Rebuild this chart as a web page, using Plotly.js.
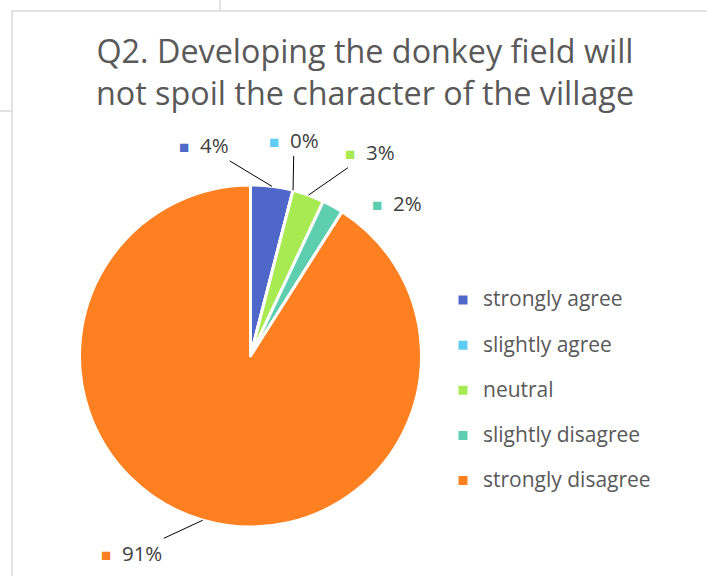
<!DOCTYPE html>
<html><head><meta charset="utf-8">
<script src="https://cdn.plot.ly/plotly-3.0.1.min.js"></script>
<style>html,body{margin:0;padding:0;background:#fff}#chart{width:707px;height:576px}</style>
</head><body><div id="chart"></div>
<script>
// ---- data ----
const categories = ['strongly agree', 'slightly agree', 'neutral', 'slightly disagree', 'strongly disagree'];
const values = [4, 0, 3, 2, 91];
const colors = ['#4E67C8', '#5ECCF3', '#A7EA52', '#5DCEAF', '#FF8021'];
const titleText = 'Q2. Developing the donkey field will<br>not spoil the character of the village';

// ---- layout config ----
const W = 707, H = 576;
const pieCx = 250.5, pieCy = 356, pieR = 171;
const labelOffsets = [[-68, -41], [1, -50], [62, -43], [64, -3], [-71, 33]];
const labelLeader = [true, true, true, false, true];
const FONT = '"Open Sans", Lato, sans-serif';

const total = values.reduce((a, b) => a + b, 0);
let cum = 0;
const annotations = values.map((v, i) => {
  const mid = (cum + v / 2) / total * 2 * Math.PI; cum += v;
  const px = pieCx + pieR * Math.sin(mid);
  const py = pieCy - pieR * Math.cos(mid);
  const pct = Math.round(v / total * 100);
  return {
    xref: 'paper', yref: 'paper', x: px / W, y: 1 - py / H,
    ax: labelOffsets[i][0], ay: labelOffsets[i][1],
    text: `<span style="color:${colors[i]};font-size:17px">■</span>  ${pct}%`,
    showarrow: true, arrowhead: 0, arrowwidth: 1,
    arrowcolor: labelLeader[i] ? '#000000' : 'rgba(0,0,0,0)',
    standoff: 0, startstandoff: 0,
    font: {family: FONT, size: 20.5, color: '#404040'}
  };
});

const trace = {
  type: 'pie',
  labels: categories.map(c => '<br><span style="font-size:21px">' + c + '</span>'),
  values: values,
  sort: false, direction: 'clockwise', rotation: 0,
  marker: {colors: colors, line: {color: '#ffffff', width: 3}},
  textinfo: 'none', hoverinfo: 'percent',
  domain: {x: [(pieCx - pieR) / W, (pieCx + pieR) / W], y: [1 - (pieCy + pieR) / H, 1 - (pieCy - pieR) / H]}
};

const layout = {
  width: W, height: H,
  margin: {l: 0, r: 0, t: 0, b: 0},
  paper_bgcolor: '#ffffff',
  title: {text: titleText, x: 365 / W, xref: 'container', xanchor: 'center',
          y: 1 - 63 / H, yref: 'container', yanchor: 'top',
          font: {family: FONT, size: 32.3, color: '#595959'}},
  showlegend: true,
  legend: {x: 443 / W, xanchor: 'left', y: 1 - 262 / H, yanchor: 'top',
           font: {family: FONT, size: 16.2, color: '#595959'},
           bgcolor: 'rgba(0,0,0,0)', borderwidth: 0, valign: 'bottom'},
  annotations: annotations,
  shapes: [
    {type: 'rect', xref: 'paper', yref: 'paper', x0: 12 / W, x1: 1.05, y0: -0.05, y1: 1 - 11 / H,
     line: {color: '#d9d9d9', width: 1.5}, fillcolor: 'rgba(0,0,0,0)', layer: 'below'},
    {type: 'line', xref: 'paper', yref: 'paper', x0: 220 / W, x1: 220 / W, y0: 1, y1: 1 - 11 / H,
     line: {color: '#d9d9d9', width: 1.5}},
    {type: 'line', xref: 'paper', yref: 'paper', x0: 0, x1: 12 / W, y0: 1 - 111 / H, y1: 1 - 111 / H,
     line: {color: '#d9d9d9', width: 1.5}}
  ]
};

Plotly.newPlot('chart', [trace], layout, {displayModeBar: false, staticPlot: true});
</script>
</body></html>
